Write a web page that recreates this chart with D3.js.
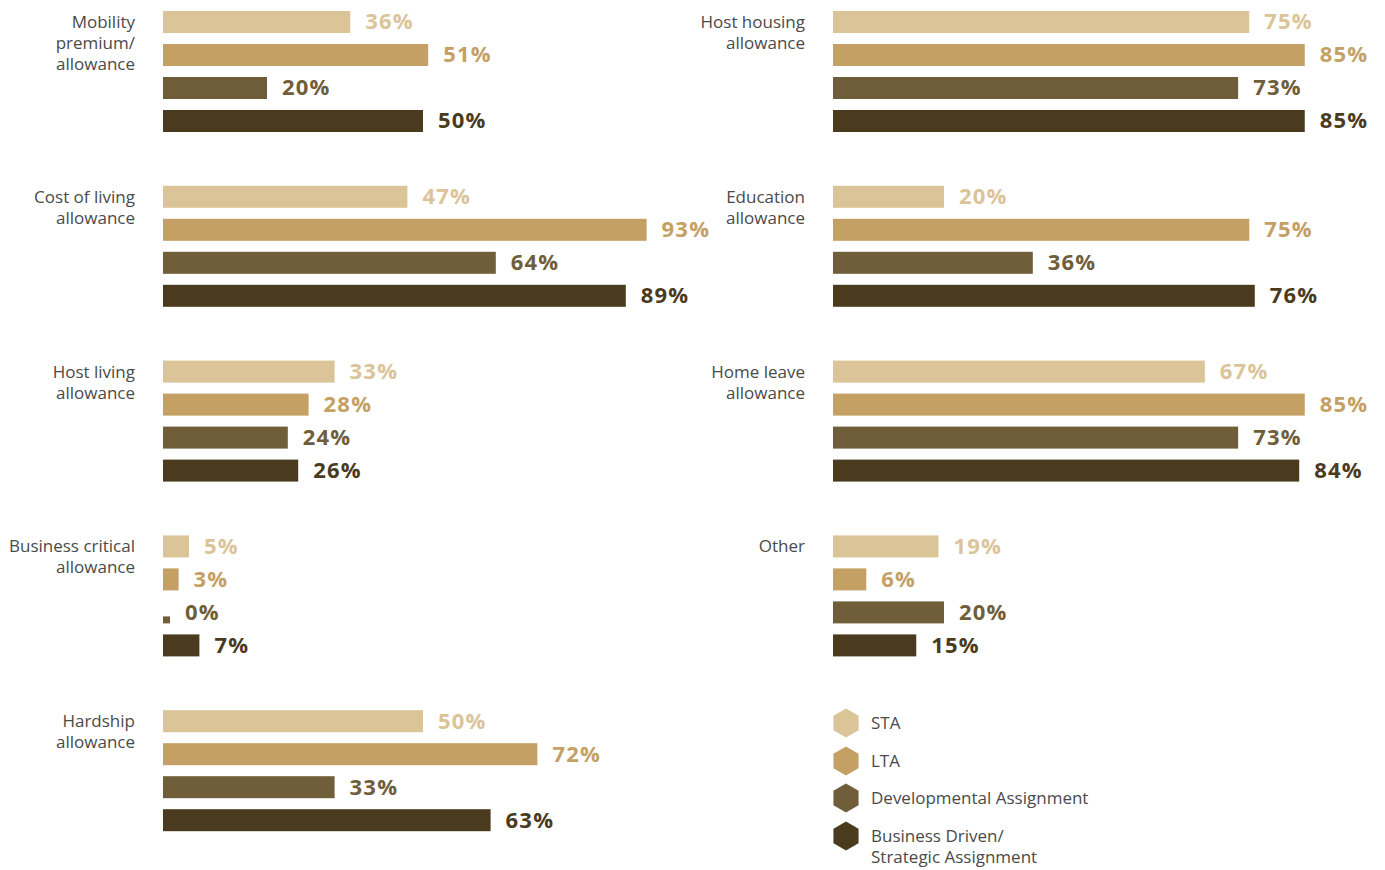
<!DOCTYPE html>
<html>
<head>
<meta charset="utf-8">
<script src="https://cdn.jsdelivr.net/npm/d3@7"></script>
<style>
  html, body { margin: 0; padding: 0; background: #fff; }
  svg { display: block; }
  .cat { font-family: "Open Sans", sans-serif; font-size: 17px; fill: #4a4a4a; }
  .val { font-family: "Open Sans", sans-serif; font-size: 22px; font-weight: 700; letter-spacing: 1.2px; }
  .leg { font-family: "Open Sans", sans-serif; font-size: 17px; fill: #4a4a4a; }
</style>
</head>
<body>
<svg id="chart" width="1385" height="870"></svg>
<script>
// Assignment types (series) and their colours
const seriesNames = ["STA", "LTA", "Developmental Assignment", "Business Driven/\nStrategic Assignment"];
const seriesColors = ["#dbc497", "#c4a065", "#705e3a", "#4a3b1e"];

// Left column allowances
const leftCategories = [
  "Mobility\npremium/\nallowance",
  "Cost of living\nallowance",
  "Host living\nallowance",
  "Business critical\nallowance",
  "Hardship\nallowance"
];
const leftSTA  = [36, 47, 33, 5, 50];
const leftLTA  = [51, 93, 28, 3, 72];
const leftDev  = [20, 64, 24, 0, 33];
const leftBiz  = [50, 89, 26, 7, 63];

// Right column allowances
const rightCategories = [
  "Host housing\nallowance",
  "Education\nallowance",
  "Home leave\nallowance",
  "Other"
];
const rightSTA = [75, 20, 67, 19];
const rightLTA = [85, 75, 85, 6];
const rightDev = [73, 36, 73, 20];
const rightBiz = [85, 76, 84, 15];

const svg = d3.select("#chart");

const groupTop = 11, groupStep = 174.8, barStep = 33, barH = 22;

function drawColumn(categories, seriesVals, x0, widthFor100, labelRight) {
  const x = d3.scaleLinear().domain([0, 100]).range([x0, x0 + widthFor100]);
  const rows = categories.map((c, i) => ({
    name: c,
    values: seriesVals.map(s => s[i])
  }));
  const col = svg.append("g");
  const g = col.selectAll("g.grp").data(rows).join("g")
    .attr("class", "grp")
    .attr("transform", (d, i) => `translate(0,${groupTop + i * groupStep})`);

  // category label
  g.append("text").attr("class", "cat")
    .attr("text-anchor", "end")
    .each(function(d) {
      const lines = d.name.split("\n");
      d3.select(this).selectAll("tspan").data(lines).join("tspan")
        .attr("x", labelRight)
        .attr("y", (l, j) => 17 + j * 21)
        .text(l => l);
    });

  const bars = g.selectAll("g.bar").data(d => d.values.map((v, k) => ({ v, k })))
    .join("g").attr("class", "bar")
    .attr("transform", d => `translate(0,${d.k * barStep})`);

  bars.filter(d => d.v > 0).append("rect")
    .attr("x", x(0))
    .attr("y", 0)
    .attr("width", d => x(d.v) - x(0))
    .attr("height", barH)
    .attr("fill", d => seriesColors[d.k]);

  // a zero value is shown as a small square sitting on the baseline
  bars.filter(d => d.v === 0).append("rect")
    .attr("x", x(0))
    .attr("y", barH - 7)
    .attr("width", 7)
    .attr("height", 7)
    .attr("fill", d => seriesColors[d.k]);

  bars.append("text").attr("class", "val")
    .attr("x", d => (d.v === 0 ? x(0) + 7 : x(d.v)) + 15)
    .attr("y", barH / 2)
    .attr("dy", "0.34em")
    .attr("fill", d => seriesColors[d.k])
    .text(d => d.v + "%");
}

drawColumn(leftCategories, [leftSTA, leftLTA, leftDev, leftBiz], 163, 520, 135);
drawColumn(rightCategories, [rightSTA, rightLTA, rightDev, rightBiz], 833, 555, 805);

// Legend with hexagon markers
const legendY = [723, 761, 798, 836];
const hex = d3.range(6).map(i => {
  const a = Math.PI / 3 * i - Math.PI / 2;
  return [Math.cos(a) * 14.5, Math.sin(a) * 14.5];
});
const leg = svg.append("g").selectAll("g").data(seriesNames).join("g")
  .attr("transform", (d, i) => `translate(846,${legendY[i]})`);
leg.append("path")
  .attr("d", "M" + hex.map(p => p.join(",")).join("L") + "Z")
  .attr("fill", (d, i) => seriesColors[i]);
leg.append("text").attr("class", "leg")
  .each(function(d) {
    d3.select(this).selectAll("tspan").data(d.split("\n")).join("tspan")
      .attr("x", 25)
      .attr("y", (l, j) => 6 + j * 21)
      .text(l => l);
  });
</script>
</body>
</html>
